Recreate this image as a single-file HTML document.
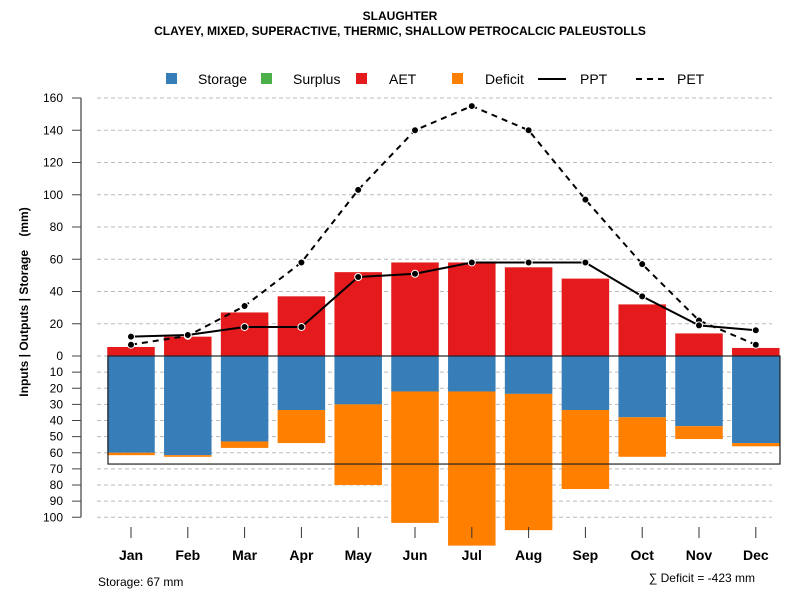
<!DOCTYPE html>
<html><head><meta charset="utf-8"><style>
body{margin:0;background:#fff}
svg{display:block;font-family:"Liberation Sans",Arial,sans-serif}
</style></head><body>
<svg id="chart" width="800" height="600" viewBox="0 0 800 600">
<text x="400" y="20" text-anchor="middle" font-size="12" font-weight="bold">SLAUGHTER</text>
<text x="400" y="35" text-anchor="middle" font-size="12" font-weight="bold">CLAYEY, MIXED, SUPERACTIVE, THERMIC, SHALLOW PETROCALCIC PALEUSTOLLS</text>
<g font-size="14">
<rect x="166" y="73" width="11" height="11" fill="#377eb8"/>
<text x="198" y="84">Storage</text>
<rect x="261" y="73" width="11" height="11" fill="#4daf4a"/>
<text x="293" y="84">Surplus</text>
<rect x="356" y="73" width="11" height="11" fill="#e41a1c"/>
<text x="389" y="84">AET</text>
<rect x="452" y="73" width="11" height="11" fill="#ff7f00"/>
<text x="485" y="84">Deficit</text>
<line x1="538" y1="79" x2="566" y2="79" stroke="#000" stroke-width="2"/>
<text x="580" y="84">PPT</text>
<line x1="636" y1="79" x2="664" y2="79" stroke="#000" stroke-width="2" stroke-dasharray="6,5"/>
<text x="677" y="84">PET</text>
</g>
<text transform="translate(28,302) rotate(-90)" text-anchor="middle" font-size="12" font-weight="bold">Inputs | Outputs | Storage &#160;&#160; (mm)</text>
<g id="plot"></g>
<text x="98" y="586" font-size="12">Storage: 67 mm</text>
<text x="755" y="582" text-anchor="end" font-size="12">∑ Deficit = -423 mm</text>
</svg>
<script>
const months=["Jan","Feb","Mar","Apr","May","Jun","Jul","Aug","Sep","Oct","Nov","Dec"];
const aet=[5.6,12,27,37,52,58,58,55,48,32,14,5];
const storage=[60,61.5,53,33.5,30,22,22,23.5,33.5,38,43.5,54];
const deficit=[1.5,1,4,20.5,50,81.5,95.6,84.5,49,24.5,8,2];
const ppt=[12,13,18,18,49,51,58,58,58,37,19,16];
const pet=[7,12.5,31,58,103,140,155,140,97,57,22,7];
const posTicks=[0,20,40,60,80,100,120,140,160];
const negTicks=[10,20,30,40,50,60,70,80,90,100];
const storageCap=67;
const NS="http://www.w3.org/2000/svg";
const g=document.getElementById("plot");
const x=i=>131+i*56.8;
const y=v=>356-v*1.6125;
function mk(t,a){const e=document.createElementNS(NS,t);for(const k in a)e.setAttribute(k,a[k]);g.appendChild(e);return e;}
// grid + y axis
mk("line",{x1:81,y1:y(160),x2:81,y2:y(-100),stroke:"#666","stroke-width":1.5});
function tick(v,lab){
 const gl=mk("line",{x1:97,y1:y(v),x2:772,y2:y(v),stroke:"#bbb","stroke-dasharray":"4,3"});
 
 
 mk("line",{x1:72,y1:y(v),x2:81,y2:y(v),stroke:"#444"});
 const t=mk("text",{x:63,y:y(v)+4,"text-anchor":"end","font-size":"12"});t.textContent=lab;
 
 
}
posTicks.forEach(v=>tick(v,v));
negTicks.forEach(v=>tick(-v,v));
const bw=47.5;
months.forEach((m,i)=>{
 const cx=x(i);
 const a=mk("rect",{x:cx-bw/2,y:y(aet[i]),width:bw,height:y(0)-y(aet[i]),fill:"#e41a1c"});
 
 
 const s=mk("rect",{x:cx-bw/2,y:y(0),width:bw,height:y(-storage[i])-y(0),fill:"#377eb8"});
 
 
 const d=mk("rect",{x:cx-bw/2,y:y(-storage[i]),width:bw,height:y(-storage[i]-deficit[i])-y(-storage[i]),fill:"#ff7f00"});
 
 
 mk("line",{x1:cx,y1:527,x2:cx,y2:538,stroke:"#333"});
 const t=mk("text",{x:cx,y:560,"text-anchor":"middle","font-size":"14","font-weight":"bold"});t.textContent=m;
 
 
});
const box=mk("rect",{x:108,y:y(0),width:672,height:y(-storageCap)-y(0),fill:"none",stroke:"#222","stroke-width":1.2});


function series(vals,dash,name){
 const p=mk("polyline",{points:vals.map((v,i)=>x(i)+","+y(v)).join(" "),fill:"none",stroke:"#000","stroke-width":2,"stroke-dasharray":dash});
 
 
 vals.forEach((v,i)=>{
  const c=mk("circle",{cx:x(i),cy:y(v),r:3.5,fill:"#000",stroke:"#fff","stroke-width":1});
  
  
 });
}
series(pet,"6,5","pet");
series(ppt,"none","ppt");
</script>
</body></html>
